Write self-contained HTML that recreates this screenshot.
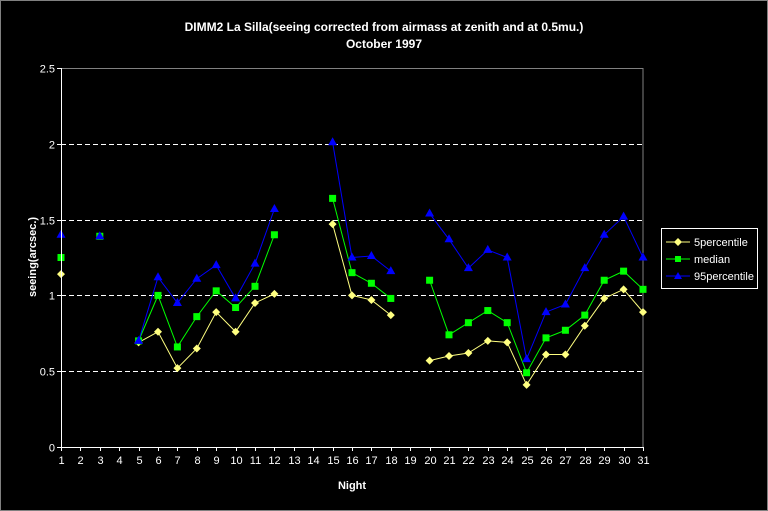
<!DOCTYPE html>
<html><head><meta charset="utf-8"><style>
body{margin:0;background:#000;}
svg{display:block;font-family:"Liberation Sans",Arial,sans-serif;}
</style></head><body>
<svg id="chart" width="768" height="511">
<rect x="0.5" y="0.5" width="767" height="510" fill="#000" stroke="#808080"/>
<text x="384" y="31" fill="#fff" font-size="12" font-weight="bold" text-anchor="middle">DIMM2 La Silla(seeing corrected from airmass at zenith and at 0.5mu.)</text>
<text x="384" y="48" fill="#fff" font-size="12" font-weight="bold" text-anchor="middle">October 1997</text>
<text transform="translate(36,257) rotate(-90)" fill="#fff" font-size="11" font-weight="bold" text-anchor="middle">seeing(arcsec.)</text>
<text x="352" y="489" fill="#fff" font-size="11" font-weight="bold" text-anchor="middle">Night</text>
<g id="grid"></g><g id="series"></g><g id="axes"></g>
<g>
<rect x="661.5" y="228.5" width="96" height="60" fill="#000" stroke="#fff"/>
<g><line x1="666" y1="242" x2="690" y2="242" stroke="#ffff80"/><path d="M678,238 L682,242 L678,246 L674,242Z" fill="#ffff80"/><text x="694" y="246" fill="#fff" font-size="11">5percentile</text></g>
<g><line x1="666" y1="259" x2="690" y2="259" stroke="#00ff00"/><rect x="675" y="256" width="6" height="6" fill="#00ff00"/><text x="694" y="263" fill="#fff" font-size="11">median</text></g>
<g><line x1="666" y1="276" x2="690" y2="276" stroke="#0000ff"/><path d="M678,272 L682,279 L674,279Z" fill="#0000ff"/><text x="694" y="280" fill="#fff" font-size="11">95percentile</text></g>
</g>
</svg>
<script>
const nights=[1,2,3,4,5,6,7,8,9,10,11,12,13,14,15,16,17,18,19,20,21,22,23,24,25,26,27,28,29,30,31];
const p5=[1.14,null,null,null,0.69,0.76,0.52,0.65,0.89,0.76,0.95,1.01,null,null,1.47,1.00,0.97,0.87,null,0.57,0.60,0.62,0.70,0.69,0.41,0.61,0.61,0.80,0.98,1.04,0.89];
const median=[1.25,null,1.39,null,0.70,1.00,0.66,0.86,1.03,0.92,1.06,1.40,null,null,1.64,1.15,1.08,0.98,null,1.10,0.74,0.82,0.90,0.82,0.49,0.72,0.77,0.87,1.10,1.16,1.04];
const p95=[1.40,null,1.39,null,0.70,1.12,0.95,1.11,1.20,0.98,1.21,1.57,null,null,2.01,1.25,1.26,1.16,null,1.54,1.37,1.18,1.30,1.25,0.58,0.89,0.94,1.18,1.40,1.52,1.25];
const yTicks=[0,0.5,1,1.5,2,2.5];
const NS="http://www.w3.org/2000/svg";
const X0=61,X1=643,Y0=447,Y1=68,YMAX=2.5;
function xs(i){return X0+(X1-X0)*i/(nights.length-1);}
function ys(v){return Y0-(Y0-Y1)*v/YMAX;}
function mk(tag,attrs,parent){const e=document.createElementNS(NS,tag);for(const k in attrs)e.setAttribute(k,attrs[k]);parent.appendChild(e);return e;}
const grid=document.getElementById('grid'),axes=document.getElementById('axes'),ser=document.getElementById('series');
mk('line',{x1:X1,y1:Y1,x2:X1,y2:Y0,stroke:'#808080'},grid);
mk('line',{x1:X0,y1:Y1+0.5,x2:X1,y2:Y1+0.5,stroke:'#808080'},grid);
yTicks.forEach(t=>{
  const y=Math.round(ys(t))+0.5;
  if(t>0&&t<YMAX){const g=mk('line',{x1:X0,y1:y,x2:X1,y2:y,stroke:'#fff','stroke-dasharray':'5,3'},grid);
  
  }
  mk('line',{x1:X0-4,y1:y,x2:X0,y2:y,stroke:'#fff'},axes);
  const tx=mk('text',{x:X0-6,y:y+4,fill:'#fff','font-size':'11','text-anchor':'end'},axes);
  tx.textContent=String(t);
  
  
});
mk('line',{x1:X0+0.5,y1:Y1,x2:X0+0.5,y2:Y0+0.5,stroke:'#fff'},axes);
mk('line',{x1:X0,y1:Y0+0.5,x2:X1,y2:Y0+0.5,stroke:'#fff'},axes);
nights.forEach((n,i)=>{
  const x=Math.round(xs(i))+0.5;
  mk('line',{x1:x,y1:Y0,x2:x,y2:Y0+4,stroke:'#fff'},axes);
  const tx=mk('text',{x:x,y:Y0+17,fill:'#fff','font-size':'11','text-anchor':'middle'},axes);
  tx.textContent=String(n);
  
  
});
function draw(vals,color,shape,name){
  const g=mk('g',{},ser);
  
  
  let d='',pen=false;
  vals.forEach((v,i)=>{if(v==null){pen=false;return;}d+=(pen?'L':'M')+xs(i)+','+ys(v)+' ';pen=true;});
  mk('path',{d:d,fill:'none',stroke:color,'stroke-width':'1'},g);
  vals.forEach((v,i)=>{if(v==null)return;const x=xs(i),y=ys(v);let m;
    if(shape==='d')m=mk('path',{d:`M${x},${y-4}L${x+4},${y}L${x},${y+4}L${x-4},${y}Z`,fill:color},g);
    else if(shape==='s')m=mk('rect',{x:x-3.5,y:y-3.5,width:7,height:7,fill:color},g);
    else m=mk('path',{d:`M${x},${y-5}L${x+4.5},${y+3}L${x-4.5},${y+3}Z`,fill:color},g);
    
    
  });
}
draw(p5,'#ffff80','d','5percentile');
draw(median,'#00ff00','s','median');
draw(p95,'#0000ff','t','95percentile');
</script>
</body></html>
